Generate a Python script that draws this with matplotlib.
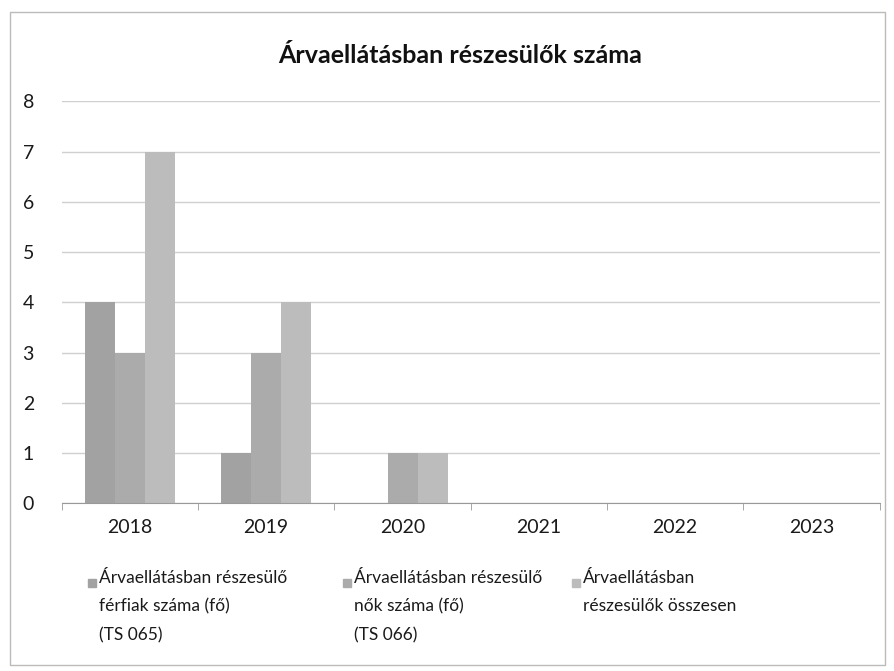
import numpy as np
import matplotlib.pyplot as plt
from matplotlib.patches import Rectangle

plt.rcParams['font.family'] = ['Lato', 'DejaVu Sans']

years = ['2018', '2019', '2020', '2021', '2022', '2023']
ferfiak = [4, 1, 0, 0, 0, 0]
nok = [3, 3, 1, 0, 0, 0]
osszesen = [7, 4, 1, 0, 0, 0]

series_labels = ['Árvaellátásban részesülő\nférfiak száma (fő)\n(TS 065)',
                 'Árvaellátásban részesülő\nnők száma (fő)\n(TS 066)',
                 'Árvaellátásban\nrészesülők összesen']
colors = ['#a2a2a2', '#ababab', '#bcbcbc']

fig = plt.figure(figsize=(8.94, 6.71), dpi=100)
ax = fig.add_axes([0.069, 0.250, 0.915, 0.599])

x = np.arange(len(years))
w = 0.22
for i, vals in enumerate([ferfiak, nok, osszesen]):
    ax.bar(x + (i - 1) * w, vals, width=w, color=colors[i], zorder=2)

ax.set_ylim(0, 8)
ax.set_xlim(-0.5, len(years) - 0.5)
ax.set_yticks(range(0, 9))
ax.yaxis.grid(True, color='#d0d0d0', linewidth=1, zorder=0)
ax.set_xticks(x)
ax.set_xticklabels(years)
ax.set_xticks(np.arange(-0.5, len(years)), minor=True)
ax.tick_params(axis='x', which='major', length=0, labelsize=14, pad=11, colors='#1a1a1a')
ax.tick_params(axis='x', which='minor', length=5, color='#999999')
ax.tick_params(axis='y', length=0, labelsize=14, pad=20, colors='#1a1a1a')
for s in ['top', 'right', 'left']:
    ax.spines[s].set_visible(False)
ax.spines['bottom'].set_color('#999999')

fig.text(0.515, 0.918, 'Árvaellátásban részesülők száma', ha='center', va='center',
         fontsize=18, fontweight='bold', color='#111111')

# legend
leg_x = [88, 343, 572]
for lx, lab, c in zip(leg_x, series_labels, colors):
    fig.patches.append(Rectangle((lx / 894, 1 - 587 / 671), 8 / 894, 8 / 671,
                                 transform=fig.transFigure, color=c))
    fig.text((lx + 11) / 894, 1 - 570 / 671, lab, ha='left', va='top',
             fontsize=12.5, color='#1a1a1a', linespacing=1.95)

# chart border
fig.patches.append(Rectangle((10 / 894, 6 / 671), 875 / 894, 653 / 671,
                             transform=fig.transFigure, fill=False,
                             edgecolor='#bbbbbb', linewidth=1))

fig.savefig('out.png', dpi=100)
